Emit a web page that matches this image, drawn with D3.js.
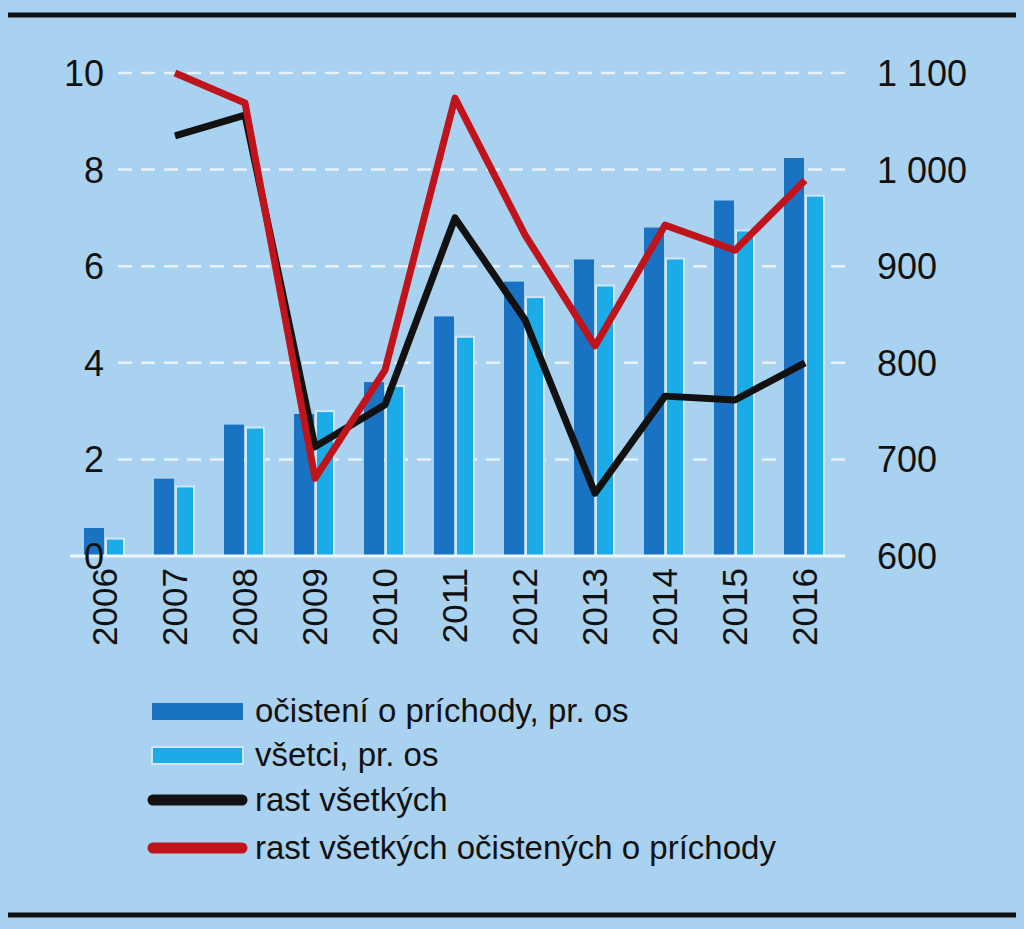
<!DOCTYPE html><html><head><meta charset="utf-8"><script src="https://cdn.jsdelivr.net/npm/d3@7"></script>
<style>body{margin:0;background:#a9d1f0}svg{display:block}text{font-family:"Liberation Sans",Arial,sans-serif;fill:#111}</style></head><body>
<script>
const years=["2006","2007","2008","2009","2010","2011","2012","2013","2014","2015","2016"];
const darkBars=[629,680,736,747,780,848,884,907,940,968,1012];
const lightBars=[618,672,733,750,776,827,868,880,908,937,973];
const blackLine=[null,8.7,9.13,2.26,3.13,7.0,4.89,1.3,3.31,3.23,4.0];
const redLine=[null,10.0,9.38,1.61,3.85,9.48,6.65,4.35,6.85,6.33,7.78];
const leftTicks=[0,2,4,6,8,10];
const rightTicks=[600,700,800,900,1000,1100];
const rightLabels=["600","700","800","900","1 000","1 100"];
const legend=[["očistení o príchody, pr. os","bar","#1a72c2"],["všetci, pr. os","bar","#1bace8"],["rast všetkých","line","#111"],["rast všetkých očistených o príchody","line","#c0141c"]];

const svg=d3.select("body").append("svg").attr("width",1024).attr("height",929);
svg.append("rect").attr("width",1024).attr("height",929).attr("fill","#a9d1f0");
[15,915].forEach(y=>svg.append("line").attr("x1",8).attr("x2",1016).attr("y1",y).attr("y2",y).attr("stroke","#111").attr("stroke-width",5));
const x=d3.scaleBand().domain(years).range([70,840]).padding(0);
const yl=d3.scaleLinear().domain([0,10]).range([556,73]);
const yr=d3.scaleLinear().domain([600,1100]).range([556,73]);
const cx=d=>x(d)+x.bandwidth()/2;
leftTicks.slice(1).forEach(t=>svg.append("line").attr("x1",118).attr("x2",845).attr("y1",yl(t)).attr("y2",yl(t)).attr("stroke","#e6f2fb").attr("stroke-width",2.5).attr("stroke-dasharray","14,9"));
const bw=20;
svg.selectAll(".d").data(years).enter().append("rect").attr("x",d=>cx(d)-bw-1).attr("width",bw).attr("y",(d,i)=>yr(darkBars[i])).attr("height",(d,i)=>yr(600)-yr(darkBars[i])).attr("fill","#1a72c2");
svg.selectAll(".l").data(years).enter().append("rect").attr("x",d=>cx(d)+1).attr("width",bw-2).attr("y",(d,i)=>yr(lightBars[i])).attr("height",(d,i)=>yr(600)-yr(lightBars[i])).attr("fill","#1bace8").attr("stroke","#cfe6f7").attr("stroke-width",2);
svg.append("line").attr("x1",70).attr("x2",845).attr("y1",556).attr("y2",556).attr("stroke","#eef6fc").attr("stroke-width",3);
const ln=d3.line().defined(d=>d[1]!=null).x(d=>cx(d[0])).y(d=>yl(d[1]));
[[blackLine,"#111"],[redLine,"#c0141c"]].forEach(([v,c])=>svg.append("path").attr("d",ln(years.map((y,i)=>[y,v[i]]))).attr("fill","none").attr("stroke",c).attr("stroke-width",7).attr("stroke-linejoin","round"));
leftTicks.forEach(t=>svg.append("text").attr("x",104).attr("y",yl(t)+13).attr("text-anchor","end").attr("font-size",36).text(t));
rightTicks.forEach((t,i)=>svg.append("text").attr("x",877).attr("y",yr(t)+13).attr("font-size",36).text(rightLabels[i]));
years.forEach(y=>svg.append("text").attr("transform",`translate(${cx(y)+12},568) rotate(-90)`).attr("text-anchor","end").attr("font-size",35).text(y));
legend.forEach(([t,k,c],i)=>{const y=[711,755,800,848][i];
 if(k=="bar")svg.append("rect").attr("x",152).attr("y",y-8).attr("width",91).attr("height",17).attr("fill",c).attr("stroke",i==1?"#cfe6f7":"none").attr("stroke-width",2);
 else svg.append("line").attr("x1",153).attr("x2",242).attr("y1",y).attr("y2",y).attr("stroke",c).attr("stroke-width",11).attr("stroke-linecap","round");
 svg.append("text").attr("x",255).attr("y",y+11).attr("font-size",33).text(t);});
</script></body></html>
